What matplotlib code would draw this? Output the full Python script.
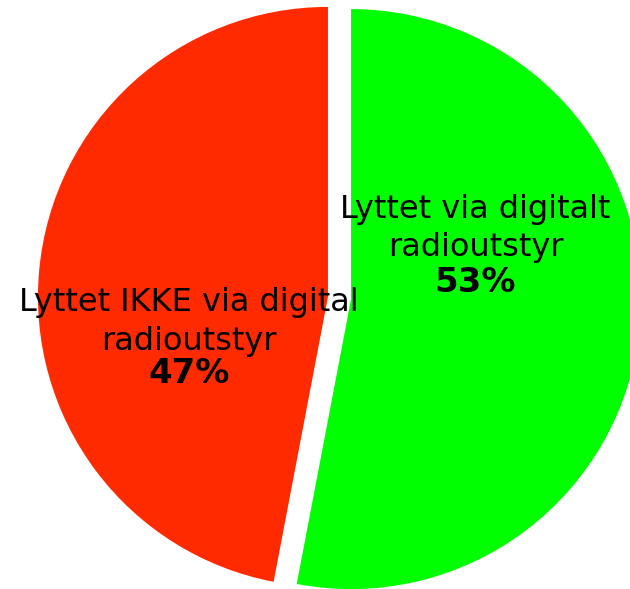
import numpy as np
import matplotlib.pyplot as plt

shares = [53, 47]
labels = [["Lyttet via digitalt", "radioutstyr"],
          ["Lyttet IKKE via digital", "radioutstyr"]]
colors = ['#00ff00', '#ff2a00']

fig = plt.figure(figsize=(6.3, 5.89), dpi=100)
ax = fig.add_axes([0, 0, 1, 1])

ax.pie(shares, colors=colors, startangle=90, counterclock=False,
       explode=[0.04, 0.04], radius=1.0)

# pixel layout: 290 px per unit, pie centre at (339.5, 298)
ax.set_xlim(-339.5 / 290, (630 - 339.5) / 290)
ax.set_ylim(-(589 - 298) / 290, 298 / 290)
ax.set_aspect('auto')
ax.axis('off')

# label lines: x centre and baselines (data units)
pos = [(0.469, [(298 - 218) / 290, (298 - 256) / 290, (298 - 292) / 290]),
       (-0.519, [(298 - 311) / 290, (298 - 350) / 290, (298 - 383) / 290])]
for share, lines, (x, ys) in zip(shares, labels, pos):
    for line, y in zip(lines, ys[:2]):
        ax.text(x, y, line, ha='center', va='baseline', fontsize=23,
                family='DejaVu Sans')
    ax.text(x, ys[2], '{}%'.format(share), ha='center', va='baseline',
            fontsize=24.5, fontweight='bold', family='DejaVu Sans')

plt.savefig('out.png', dpi=100)
